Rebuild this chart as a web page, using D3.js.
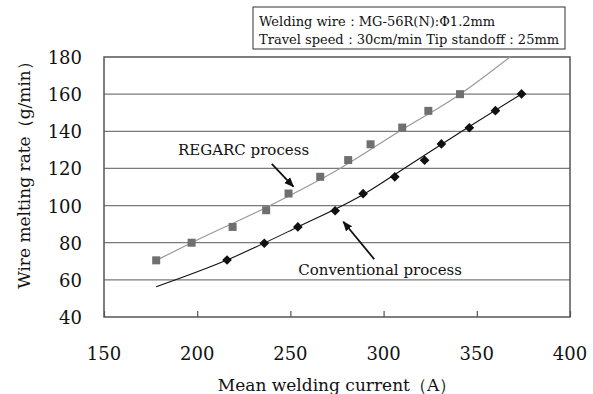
<!DOCTYPE html>
<meta charset="utf-8">
<script src="https://d3js.org/d3.v7.min.js"></script>
<style>
  body { margin: 0; background: #fff; }
  text { font-family: "DejaVu Serif", serif; fill: #111; }
</style>
<div id="chart"></div>
<script>

var regarcCurrent = [178, 197, 219, 237, 249, 266, 281, 293, 310, 324, 341];
var regarcRate    = [70.5, 80, 88.5, 97.5, 106.5, 115.5, 124.5, 133, 142, 151, 160];

var convCurrent = [216, 236, 254, 274, 289, 306, 322, 331, 346, 360, 374];
var convRate    = [70.7, 79.7, 88.5, 97.2, 106.4, 115.5, 124.4, 133.2, 141.9, 151.1, 160.1];

// trend lines
var regarcTrendX = [178, 197, 237, 276.6, 308.5, 341, 368];
var regarcTrendY = [70.5, 80, 99, 120, 140, 160, 180.2];
var convTrendX   = [178, 216, 254, 290, 311, 342, 374];
var convTrendY   = [56.3, 70.7, 88.5, 106.5, 120, 140, 160.1];

var xTicks = [150, 200, 250, 300, 350, 400];
var yTicks = [40, 60, 80, 100, 120, 140, 160, 180];

var W = 593, H = 394;
var plot = {left: 104, right: 570, top: 57, bottom: 317};

var svg = d3.select("#chart").append("svg")
  .attr("width", W).attr("height", H);

var x = d3.scaleLinear().domain([150, 400]).range([plot.left, plot.right]);
var y = d3.scaleLinear().domain([40, 180]).range([plot.bottom, plot.top]);

// gridlines
svg.append("g")
  .selectAll("line")
  .data(yTicks.slice(1, -1))
  .enter().append("line")
    .attr("x1", plot.left).attr("x2", plot.right)
    .attr("y1", d => y(d)).attr("y2", d => y(d))
    .attr("stroke", "#7a7a7a").attr("stroke-width", 1.3);

// bottom axis, ticks pointing inward
var xAxis = svg.append("g")
  .attr("transform", "translate(0," + plot.bottom + ")")
  .call(d3.axisTop(x).tickValues(xTicks).tickSize(6).tickFormat(""));
xAxis.select(".domain").remove();
xAxis.selectAll("line").attr("stroke", "#555").attr("stroke-width", 1.2);

svg.append("g")
  .selectAll("text")
  .data(xTicks)
  .enter().append("text")
    .attr("x", d => x(d))
    .attr("y", 360)
    .attr("text-anchor", "middle")
    .style("font-size", "18px")
    .text(d => d);

svg.append("g")
  .selectAll("text")
  .data(yTicks)
  .enter().append("text")
    .attr("x", 82)
    .attr("y", d => y(d) + 7)
    .attr("text-anchor", "end")
    .style("font-size", "18px")
    .text(d => d);

// plot frame
svg.append("rect")
  .attr("x", plot.left).attr("y", plot.top)
  .attr("width", plot.right - plot.left).attr("height", plot.bottom - plot.top)
  .attr("fill", "none").attr("stroke", "#555").attr("stroke-width", 1.5);

// trend lines
var line = d3.line()
  .x(d => x(d[0])).y(d => y(d[1]))
  .curve(d3.curveMonotoneX);

svg.append("path")
  .datum(d3.zip(regarcTrendX, regarcTrendY))
  .attr("d", line)
  .attr("fill", "none").attr("stroke", "#999").attr("stroke-width", 1.2);

svg.append("path")
  .datum(d3.zip(convTrendX, convTrendY))
  .attr("d", line)
  .attr("fill", "none").attr("stroke", "#111").attr("stroke-width", 1.1);

// markers
svg.append("g")
  .selectAll("rect")
  .data(d3.zip(regarcCurrent, regarcRate))
  .enter().append("rect")
    .attr("x", d => x(d[0]) - 4)
    .attr("y", d => y(d[1]) - 4)
    .attr("width", 8).attr("height", 8)
    .attr("fill", "#6f6f6f");

svg.append("g")
  .selectAll("path")
  .data(d3.zip(convCurrent, convRate))
  .enter().append("path")
    .attr("transform", d => "translate(" + x(d[0]) + "," + y(d[1]) + ")")
    .attr("d", d3.symbol(d3.symbolDiamond2, 60))
    .attr("fill", "#111");

// arrows and labels
svg.append("defs").append("marker")
  .attr("id", "head")
  .attr("viewBox", "0 0 10 10")
  .attr("refX", 9).attr("refY", 5)
  .attr("markerWidth", 10).attr("markerHeight", 10)
  .attr("markerUnits", "userSpaceOnUse")
  .attr("orient", "auto")
  .append("path")
    .attr("d", "M0,1 L10,5 L0,9 Z")
    .attr("fill", "#111");

function arrow(x1, y1, x2, y2) {
  svg.append("line")
    .attr("x1", x(x1)).attr("y1", y(y1))
    .attr("x2", x(x2)).attr("y2", y(y2))
    .attr("stroke", "#111").attr("stroke-width", 1.8)
    .attr("marker-end", "url(#head)");
}
arrow(240.0, 122.4, 251.6, 110.2);
arrow(295.0, 71.1, 278.4, 91.3);

svg.append("text")
  .attr("x", x(189.7)).attr("y", y(127.2))
  .style("font-size", "15px")
  .text("REGARC process");

svg.append("text")
  .attr("x", x(254.2)).attr("y", y(62.6))
  .style("font-size", "15px")
  .text("Conventional process");

// condition box
svg.append("rect")
  .attr("x", 253).attr("y", 7)
  .attr("width", 312).attr("height", 42)
  .attr("fill", "#fff").attr("stroke", "#333").attr("stroke-width", 1);

svg.append("text")
  .attr("x", 259).attr("y", 26)
  .style("font-size", "13px")
  .text("Welding wire：MG-56R(N):Φ1.2mm");

svg.append("text")
  .attr("x", 259).attr("y", 44)
  .style("font-size", "13px")
  .text("Travel speed：30cm/min  Tip standoff：25mm");

// axis titles
svg.append("text")
  .attr("x", 337).attr("y", 391)
  .attr("text-anchor", "middle")
  .style("font-size", "17px")
  .text("Mean welding current（A）");

svg.append("text")
  .attr("transform", "translate(30,171) rotate(-90)")
  .attr("text-anchor", "middle")
  .style("font-size", "17px")
  .text("Wire melting rate（g/min）");

</script>
